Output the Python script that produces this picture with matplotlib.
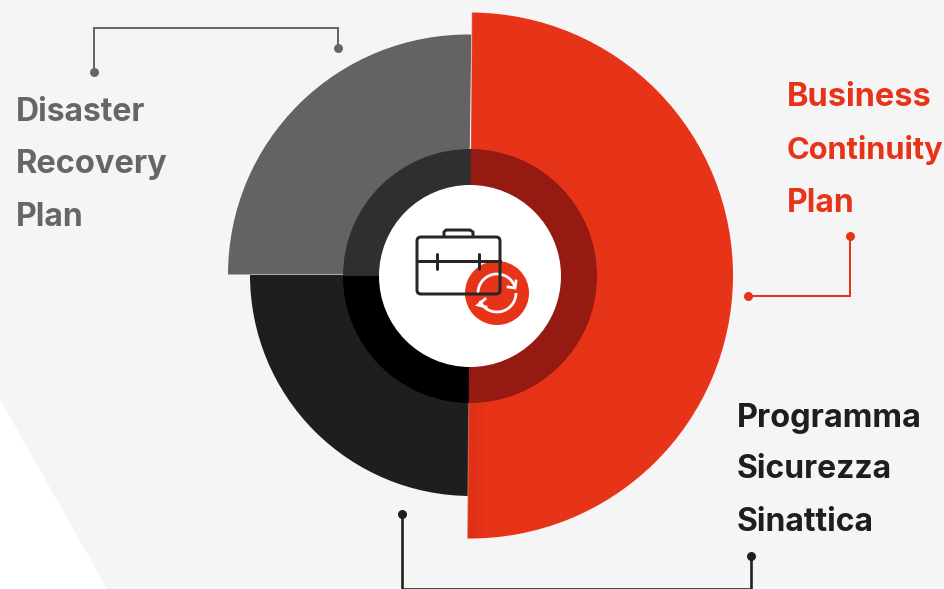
#rose style diagram with three plans and a briefcase icon in the middle
import matplotlib
matplotlib.use('Agg')
import matplotlib.pyplot as plt
import numpy as np
from matplotlib.patches import Wedge, Circle, Polygon, FancyBboxPatch, Arc

plt.rcParams['font.family'] = ['Inter', 'DejaVu Sans']

#Radius of each sector in pixels, and where the sector sweeps (y axis points down)
names = ['Disaster Recovery Plan', 'Programma Sicurezza Sinattica', 'Business Continuity Plan']
radii = [240, 221, 263]
starts = [180, 90, -89.6]
ends = [270.8, 180, 90.6]
ring_outer = 127
ring_inner = 91

grey = '#636362'
black = '#1e1e1c'
red = '#e73318'
ring_colors = ['#2f2f2f', '#000000', '#951a12']
sector_colors = [grey, black, red]
centers = [(468, 274.5), (471, 275), (470, 275.5)]

grey_label = ['Disaster', 'Recovery', 'Plan']
red_label = ['Business', 'Continuity', 'Plan']
black_label = ['Programma', 'Sicurezza', 'Sinattica']

fig = plt.figure(figsize=(9.45, 5.89), dpi=100, facecolor='white')
ax = fig.add_axes([0, 0, 1, 1])

#Pale background with the white corner cut out at the lower left
ax.add_patch(Polygon([(0, 0), (945, 0), (945, 589), (107, 589), (0, 399)], fc='#f5f5f5', ec='none', zorder=0))

#Soft shadow running from the seam into a sector
def shade(patch, x0, x1, y0, y1, strength):
    rgba = np.zeros((1, 2, 4))
    rgba[0, 0, 3] = strength
    ax.imshow(rgba, extent=(x0, x1, y1, y0), interpolation='bilinear', aspect='auto',
              zorder=patch.get_zorder() + 0.5, clip_path=patch)

#Sectors, then the darker ring and the white hole on top
sectors = []
for i in range(3):
    sectors.append(ax.add_patch(Wedge(centers[i], radii[i], starts[i], ends[i], fc=sector_colors[i], ec='none', zorder=1 + i)))
shade(sectors[2], 466, 495, 270, 540, 0.035)
ax.plot([472, 467.5], [13, 538], color='white', lw=0.7, alpha=0.3, zorder=4)
for i in range(3):
    ax.add_patch(Wedge((470, 276), ring_outer, starts[i], ends[i], fc=ring_colors[i], ec='none', zorder=5))
ax.add_patch(Circle((470, 276), ring_inner, fc='white', ec='none', zorder=6))

#Connector lines with a dot on each end
def connector(xs, ys, color, px):
    ax.plot(xs, ys, color=color, lw=px * 0.72, solid_joinstyle='miter', solid_capstyle='butt', zorder=7)
    ax.plot([xs[0], xs[-1]], [ys[0], ys[-1]], 'o', color=color, ms=9 * 0.72, mew=0, zorder=7)

connector([93.5, 93.5, 338, 338], [72, 27.5, 27.5, 48], '#666665', 2)
connector([850, 850, 748], [236, 295.5, 295.5], red, 2)
connector([402, 402, 751, 751], [514, 588.5, 588.5, 556], black, 2.6)

#Labels, one word per line
def label(words, x, baselines, color, sizes):
    for word, y, size in zip(words, baselines, sizes):
        ax.text(x, y, word, color=color, fontsize=size, fontweight='bold', ha='left', va='baseline', zorder=8)

label(grey_label, 16, [121, 173, 226], '#666665', [23, 23.5, 23])
label(red_label, 787, [106, 159, 212], red, [23.4, 22.2, 23])
label(black_label, 737, [427, 478, 531], black, [23.4, 23, 23])

#Red badge with the two white refresh arrows
badge = (497, 293)
ax.add_patch(Circle(badge, 32, fc=red, ec='none', zorder=7))
ax.add_patch(Arc(badge, 38, 38, theta1=180, theta2=340, color='white', lw=2, zorder=8))
ax.add_patch(Arc(badge, 38, 38, theta1=0, theta2=155, color='white', lw=2, zorder=8))
ax.plot([508, 515, 516], [287, 288, 281], color='white', lw=2, solid_joinstyle='miter', zorder=8)
ax.plot([485, 478, 486], [299, 305, 307], color='white', lw=2, solid_joinstyle='miter', zorder=8)

#Briefcase drawn in outline over the badge
ink = '#262624'
ink_lw = 3 * 0.72
ax.add_patch(FancyBboxPatch((417, 237), 83, 57, boxstyle='round,pad=0,rounding_size=4', fc='none', ec=ink, lw=ink_lw, zorder=9))
ax.plot([444, 444, 446, 470, 473, 473], [236, 232, 230, 230, 232, 236], color=ink, lw=ink_lw, zorder=9)
ax.plot([417, 500], [261, 261], color=ink, lw=ink_lw, zorder=9)
ax.plot([437, 437], [254, 269], color=ink, lw=ink_lw, solid_capstyle='round', zorder=9)
ax.plot([479, 479], [254, 269], color=ink, lw=ink_lw, solid_capstyle='round', zorder=9)

ax.set_xlim(0, 945)
ax.set_ylim(589, 0)
ax.axis('off')

fig.savefig('out.png', dpi=100, facecolor='white')
plt.close()
